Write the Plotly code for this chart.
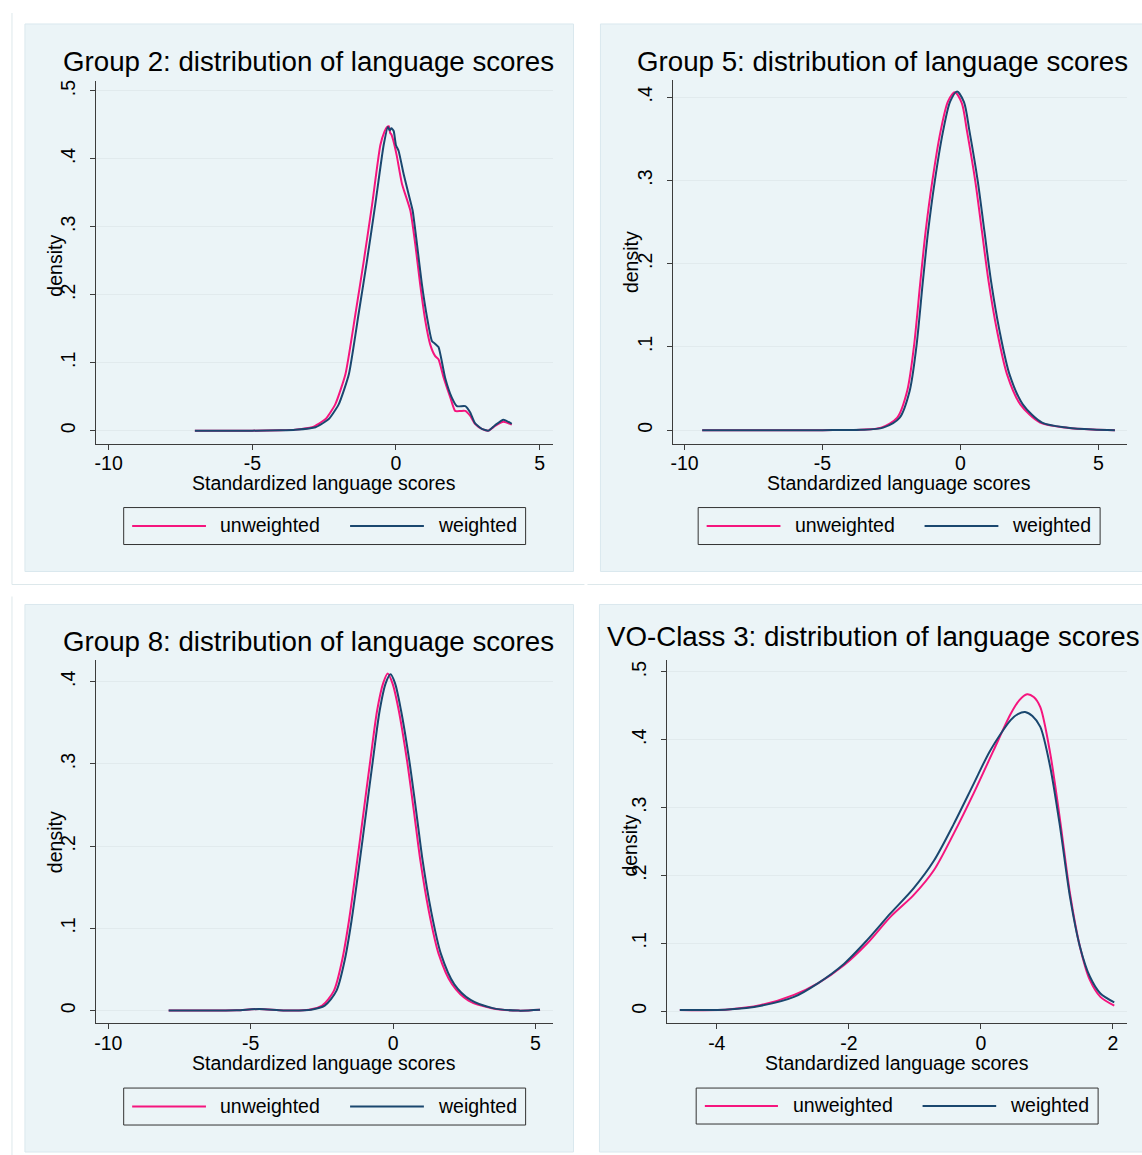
import plotly.graph_objects as go

W, H = 1142, 1155

# ---------------- data ----------------
series_names = ["unweighted", "weighted"]
titles = ["Group 2: distribution of language scores",
          "Group 5: distribution of language scores",
          "Group 8: distribution of language scores",
          "VO-Class 3: distribution of language scores"]
x_title = "Standardized language scores"
y_title = "density"

x_ticks_wide = [-10, -5, 0, 5]
x_ticks_vo = [-4, -2, 0, 2]
y_ticks_05 = [0, 0.1, 0.2, 0.3, 0.4, 0.5]
y_ticks_04 = [0, 0.1, 0.2, 0.3, 0.4]
y_ticklabels_05 = ["0", ".1", ".2", ".3", ".4", ".5"]
y_ticklabels_04 = ["0", ".1", ".2", ".3", ".4"]

# Group 2
g2_unw_x = [-7.0, -6.0, -5.0, -4.0, -3.5, -2.92, -2.45, -2.11, -1.76, -1.41, -1.12, -0.83, -0.545, -0.4, -0.31,
            -0.25, -0.2, -0.16, -0.1, 0.03, 0.21, 0.50, 0.67, 0.84, 1.02, 1.19, 1.36, 1.48, 1.66, 1.89, 2.06,
            2.25, 2.41, 2.58, 2.75, 2.99, 3.22, 3.45, 3.74, 4.03]
g2_unw_y = [0.0, 0.0, 0.0, 0.0005, 0.0015, 0.005, 0.017, 0.039, 0.083, 0.172, 0.25, 0.333, 0.42, 0.44, 0.447,
            0.448, 0.438, 0.436, 0.428, 0.404, 0.363, 0.324, 0.275, 0.216, 0.162, 0.127, 0.110, 0.105, 0.078,
            0.049, 0.029, 0.029, 0.029, 0.022, 0.010, 0.0025, 0.0, 0.007, 0.013, 0.009]
g2_w_x = [-7.0, -6.0, -5.0, -4.0, -3.5, -2.80, -2.34, -1.99, -1.64, -1.30, -1.01, -0.72, -0.43, -0.28, -0.22,
          -0.16, -0.08, 0.0, 0.09, 0.27, 0.44, 0.58, 0.73, 0.90, 1.08, 1.25, 1.36, 1.48, 1.71, 1.94, 2.12, 2.41,
          2.58, 2.75, 2.99, 3.22, 3.45, 3.74, 4.03]
g2_w_y = [0.0, 0.0, 0.0, 0.0004, 0.0012, 0.005, 0.017, 0.039, 0.083, 0.172, 0.25, 0.333, 0.42, 0.447, 0.442,
          0.445, 0.441, 0.42, 0.412, 0.377, 0.348, 0.324, 0.275, 0.216, 0.167, 0.132, 0.128, 0.123, 0.078, 0.049,
          0.036, 0.036, 0.027, 0.011, 0.0025, 0.0, 0.008, 0.016, 0.010]

# Group 5
g5_unw_x = [-9.36, -8, -6, -5, -4.2, -3.61, -2.87, -2.29, -1.93, -1.69, -1.45, -1.26, -1.02, -0.72, -0.45,
            -0.2, 0.05, 0.24, 0.54, 0.78, 1.02, 1.33, 1.69, 2.17, 2.89, 3.86, 4.8, 5.6]
g5_unw_y = [0, 0, 0, 0, 0.0002, 0.0005, 0.003, 0.015, 0.047, 0.099, 0.179, 0.239, 0.299, 0.359, 0.395,
            0.406, 0.393, 0.359, 0.299, 0.239, 0.179, 0.119, 0.067, 0.031, 0.009, 0.003, 0.0008, 0.0]
g5_w_x = [-9.36, -8, -6, -5, -4.2, -3.61, -2.80, -2.20, -1.84, -1.60, -1.36, -1.17, -0.93, -0.63, -0.37,
          -0.12, 0.13, 0.33, 0.63, 0.87, 1.11, 1.42, 1.78, 2.26, 2.96, 3.9, 4.8, 5.6]
g5_w_y = [0, 0, 0, 0, 0.0002, 0.0004, 0.003, 0.015, 0.047, 0.099, 0.179, 0.239, 0.299, 0.359, 0.395,
          0.407, 0.394, 0.359, 0.299, 0.239, 0.179, 0.119, 0.067, 0.031, 0.009, 0.003, 0.0008, 0.0]

# Group 8
g8_unw_x = [-7.88, -6.5, -5.5, -4.7, -4.0, -3.54, -2.95, -2.49, -2.08, -1.79, -1.55, -1.26, -1.03, -0.80, -0.56,
            -0.35, -0.19, -0.02, 0.20, 0.49, 0.73, 0.96, 1.25, 1.60, 2.07, 2.65, 3.47, 4.40, 5.16]
g8_unw_y = [0.0, 0.0, 0.0005, 0.002, 0.0005, 0.0, 0.001, 0.006, 0.024, 0.061, 0.109, 0.182, 0.243, 0.304, 0.365,
            0.398, 0.410, 0.398, 0.365, 0.304, 0.243, 0.182, 0.122, 0.069, 0.032, 0.012, 0.003, 0.0, 0.001]
g8_w_x = [-7.88, -6.5, -5.5, -4.7, -4.0, -3.5, -2.88, -2.40, -1.99, -1.70, -1.46, -1.17, -0.94, -0.71, -0.47,
          -0.26, -0.09, 0.07, 0.28, 0.57, 0.81, 1.04, 1.33, 1.68, 2.15, 2.72, 3.5, 4.40, 5.16]
g8_w_y = [0.0, 0.0, 0.0005, 0.002, 0.0005, 0.0, 0.001, 0.006, 0.024, 0.061, 0.109, 0.182, 0.243, 0.304, 0.365,
          0.398, 0.409, 0.398, 0.365, 0.304, 0.243, 0.182, 0.122, 0.069, 0.032, 0.013, 0.003, 0.0, 0.001]

# VO-Class 3
vo3_unw_x = [-4.56, -3.83, -3.33, -2.83, -2.47, -2.07, -1.72, -1.37, -1.02, -0.71, -0.41, -0.11, 0.19, 0.45,
             0.58, 0.70, 0.80, 0.90, 1.05, 1.20, 1.35, 1.50, 1.65, 1.81, 2.02]
vo3_unw_y = [0.0015, 0.0025, 0.009, 0.024, 0.041, 0.068, 0.100, 0.139, 0.171, 0.208, 0.262, 0.321, 0.384,
             0.438, 0.458, 0.467, 0.463, 0.448, 0.380, 0.281, 0.173, 0.095, 0.046, 0.021, 0.008]
vo3_w_x = [-4.56, -3.83, -3.33, -2.83, -2.47, -2.07, -1.72, -1.37, -1.02, -0.71, -0.41, -0.11, 0.14, 0.45,
           0.56, 0.67, 0.78, 0.90, 1.05, 1.20, 1.35, 1.50, 1.65, 1.81, 2.02]
vo3_w_y = [0.0015, 0.0025, 0.008, 0.021, 0.041, 0.070, 0.105, 0.144, 0.181, 0.222, 0.276, 0.335, 0.384,
           0.429, 0.438, 0.441, 0.435, 0.419, 0.360, 0.271, 0.168, 0.095, 0.051, 0.026, 0.013]

# ---------------- styling ----------------
FONT = "Liberation Sans, Arial, sans-serif"
PINK = "#F5157E"
NAVY = "#1A476F"
BG = "#EBF4F7"
BG_EDGE = "#DAE8EE"
GRID = "#E1EAED"
AXIS = "#3C3C3C"
FRAME = "#DDE8EB"


def X(px):
    return px / W


def Y(py):
    return 1 - py / H


panels = [
    dict(data=[(g2_unw_x, g2_unw_y), (g2_w_x, g2_w_y)], title=titles[0],
         bg=(22, 23, 572, 571), dom=(93, 551, 80, 443), xr=[-10.45, 5.45], yr=[-0.0191, 0.5147],
         xt=x_ticks_wide, yt=y_ticks_05, ytl=y_ticklabels_05, title_xy=(306, 61),
         ytitle_xy=(52, 265), xtitle_xy=(322, 482),
         leg=(121, 507, 524, 544), l1=(129.5, 203.5), t1=216, l2=(348, 422), t2=434,
         shape="spline", smooth=0.5),
    dict(data=[(g5_unw_x, g5_unw_y), (g5_w_x, g5_w_y)], title=titles[1],
         bg=(599, 23, 1150, 571), dom=(672, 1127, 79, 443), xr=[-10.41, 6.04], yr=[-0.0162, 0.4208],
         xt=x_ticks_wide, yt=y_ticks_04, ytl=y_ticklabels_04, title_xy=(882, 61),
         ytitle_xy=(629, 261), xtitle_xy=(898, 482),
         leg=(697, 507, 1100, 544), l1=(705.5, 779.5), t1=792, l2=(924, 998), t2=1010,
         shape="spline", smooth=0.8),
    dict(data=[(g8_unw_x, g8_unw_y), (g8_w_x, g8_w_y)], title=titles[2],
         bg=(22, 604, 572, 1152), dom=(93, 551, 660, 1023), xr=[-10.44, 5.60], yr=[-0.0152, 0.4259],
         xt=x_ticks_wide, yt=y_ticks_04, ytl=y_ticklabels_04, title_xy=(306, 641),
         ytitle_xy=(52, 842), xtitle_xy=(322, 1063),
         leg=(121, 1088, 524, 1125), l1=(129.5, 203.5), t1=216, l2=(348, 422), t2=434,
         shape="spline", smooth=0.8),
    dict(data=[(vo3_unw_x, vo3_unw_y), (vo3_w_x, vo3_w_y)], title=titles[3],
         bg=(598, 604, 1150, 1152), dom=(665.5, 1127.3, 660, 1023.3), xr=[-4.758, 2.218], yr=[-0.0181, 0.517],
         xt=x_ticks_vo, yt=y_ticks_05, ytl=y_ticklabels_05, title_xy=(872.5, 636),
         ytitle_xy=(629, 845), xtitle_xy=(896, 1063),
         leg=(695, 1088, 1098, 1124), l1=(703.7, 777), t1=790, l2=(922, 995.8), t2=1008,
         shape="spline", smooth=0.8),
]

fig = go.Figure()
shapes = []
annotations = []
layout_axes = {}

# faint outer cell frames
for (x0, y0, x1, y1) in [(9, 12, 9, 584), (9, 584, 583, 584), (586, 584, 1142, 584), (9, 596, 9, 1155)]:
    shapes.append(dict(type="line", xref="paper", yref="paper", x0=X(x0), y0=Y(y0), x1=X(x1), y1=Y(y1),
                       line=dict(color=FRAME, width=1), layer="below"))

colors = [PINK, NAVY]
for i, p in enumerate(panels):
    n = "" if i == 0 else str(i + 1)
    xa, ya = "x" + n, "y" + n
    bx0, by0, bx1, by1 = p["bg"]
    shapes.append(dict(type="rect", xref="paper", yref="paper", x0=X(bx0), y0=Y(by1), x1=X(bx1), y1=Y(by0),
                       fillcolor=BG, line=dict(color=BG_EDGE, width=1), layer="below"))
    for j, (xs, ys) in enumerate(p["data"]):
        fig.add_trace(go.Scatter(x=xs, y=ys, mode="lines", name=series_names[j], showlegend=False,
                                 line=dict(color=colors[j], width=2, shape=p["shape"], smoothing=p["smooth"]),
                                 xaxis=xa, yaxis=ya))
    dx0, dx1, dy0, dy1 = p["dom"]
    layout_axes["xaxis" + n] = dict(
        domain=[X(dx0), X(dx1)], range=p["xr"], anchor=ya, tickvals=p["xt"],
        ticktext=[str(v) for v in p["xt"]], ticks="outside", ticklen=5, tickwidth=1, tickcolor=AXIS,
        showline=True, linecolor=AXIS, linewidth=1, showgrid=False, zeroline=False,
        tickfont=dict(family=FONT, size=19.5, color="black"), ticklabelstandoff=-3, fixedrange=True)
    layout_axes["yaxis" + n] = dict(
        domain=[Y(dy1), Y(dy0)], range=p["yr"], anchor=xa, tickvals=p["yt"], ticktext=p["ytl"],
        tickangle=-90, ticks="outside", ticklen=5, tickwidth=1, tickcolor=AXIS,
        showline=True, linecolor=AXIS, linewidth=1, showgrid=True, gridcolor=GRID, gridwidth=1,
        zeroline=False, tickfont=dict(family=FONT, size=19.5, color="black"), ticklabelstandoff=7,
        fixedrange=True)
    # title
    tx, ty = p["title_xy"]
    annotations.append(dict(text=p["title"], x=X(tx), y=Y(ty), xref="paper", yref="paper", showarrow=False,
                            xanchor="center", yanchor="middle", font=dict(family=FONT, size=27.7, color="black")))
    # axis titles
    ax_, ay_ = p["ytitle_xy"]
    annotations.append(dict(text=y_title, x=X(ax_), y=Y(ay_), xref="paper", yref="paper", showarrow=False,
                            textangle=-90, xanchor="center", yanchor="middle",
                            font=dict(family=FONT, size=19.5, color="black")))
    tx2, ty2 = p["xtitle_xy"]
    annotations.append(dict(text=x_title, x=X(tx2), y=Y(ty2), xref="paper", yref="paper", showarrow=False,
                            xanchor="center", yanchor="middle", font=dict(family=FONT, size=19.5, color="black")))
    # legend box
    lx0, ly0, lx1, ly1 = p["leg"]
    shapes.append(dict(type="rect", xref="paper", yref="paper", x0=X(lx0), y0=Y(ly1), x1=X(lx1), y1=Y(ly0),
                       line=dict(color="#333333", width=1), fillcolor="rgba(0,0,0,0)"))
    ly = (ly0 + ly1) / 2
    for (l, t, c, name) in [(p["l1"], p["t1"], PINK, series_names[0]), (p["l2"], p["t2"], NAVY, series_names[1])]:
        shapes.append(dict(type="line", xref="paper", yref="paper", x0=X(l[0]), y0=Y(ly), x1=X(l[1]), y1=Y(ly),
                           line=dict(color=c, width=2)))
        annotations.append(dict(text=name, x=X(t), y=Y(ly - 1), xref="paper", yref="paper", showarrow=False,
                                xanchor="left", yanchor="middle",
                                font=dict(family=FONT, size=19.5, color="black")))

fig.update_layout(
    width=W, height=H, margin=dict(l=0, r=0, t=0, b=0, pad=0),
    paper_bgcolor="white", plot_bgcolor="rgba(0,0,0,0)",
    showlegend=False, shapes=shapes, annotations=annotations,
    font=dict(family=FONT, color="black"),
    **layout_axes,
)

fig.write_html("out.html", config={"displayModeBar": False},
               post_script="document.body.style.margin='0';document.body.style.overflow='hidden';")
